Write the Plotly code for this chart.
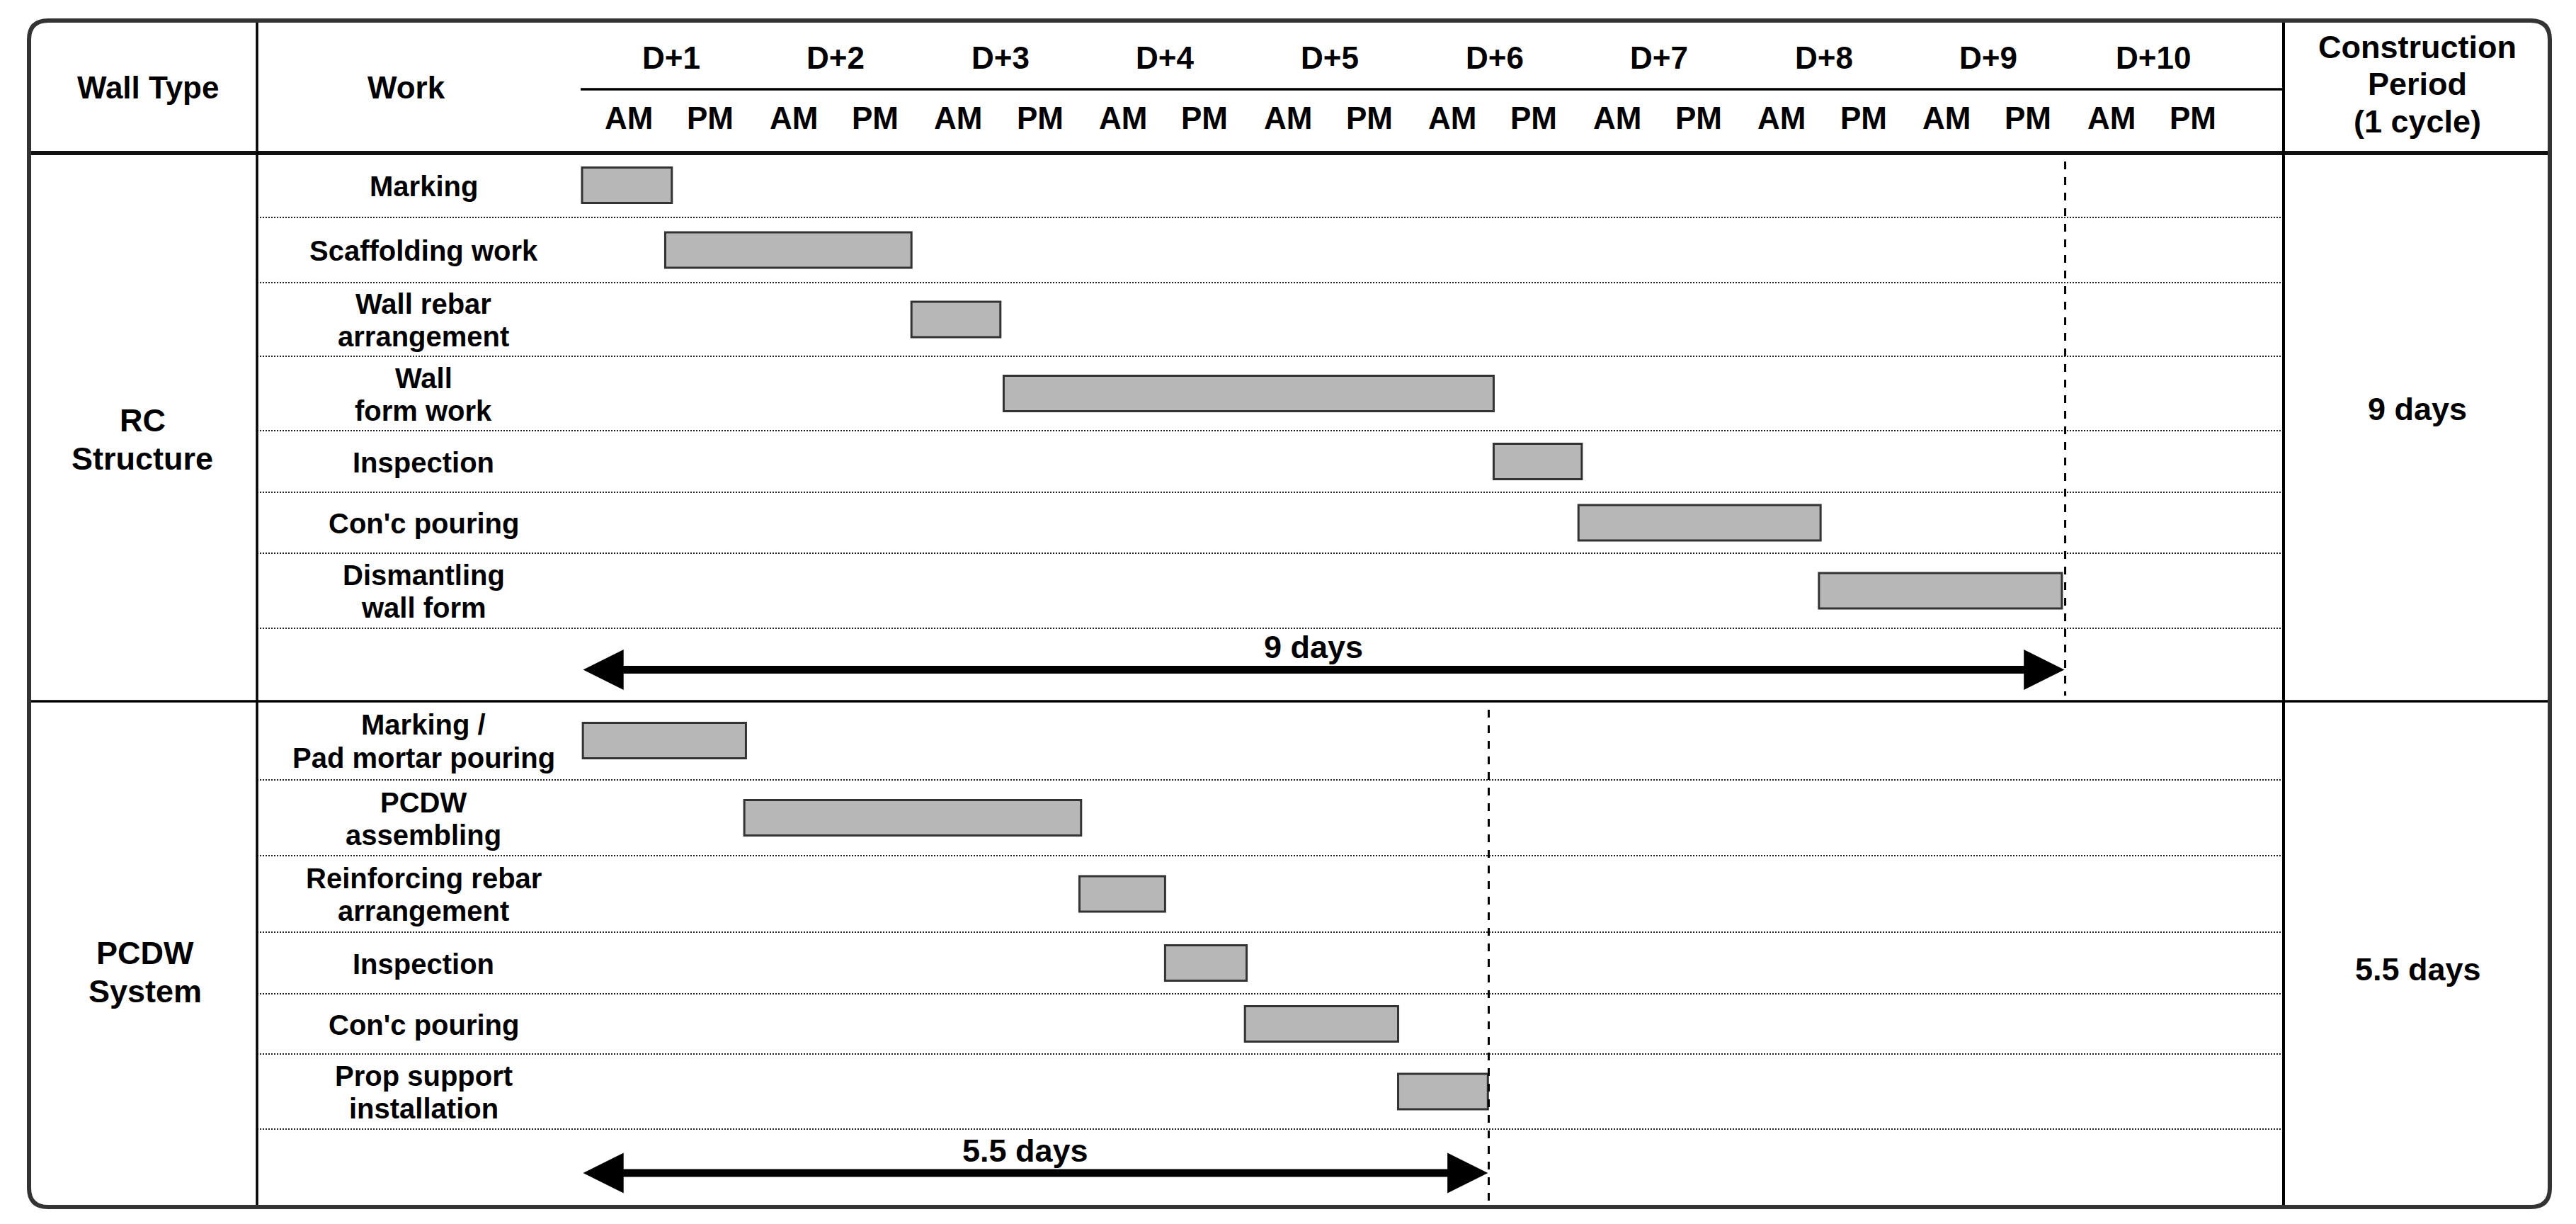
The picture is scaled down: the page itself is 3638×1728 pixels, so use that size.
import plotly.graph_objects as go

W, H = 3638, 1728

# ---------------- data ----------------
HEADER_WALL = "Wall Type"
HEADER_WORK = "Work"
HEADER_PERIOD = ["Construction", "Period", "(1 cycle)"]
DAY_LABELS = ["D+1", "D+2", "D+3", "D+4", "D+5", "D+6", "D+7", "D+8", "D+9", "D+10"]
HALF_LABELS = ["AM", "PM"]

WALL_TYPES = [["RC", "Structure"], ["PCDW", "System"]]
PERIOD_TEXT = ["9 days", "5.5 days"]

# tasks (start / end in half-day slots from D+1 AM)
RC_TASKS = [["Marking"], ["Scaffolding work"], ["Wall rebar", "arrangement"],
            ["Wall", "form work"], ["Inspection"], ["Con'c pouring"],
            ["Dismantling", "wall form"]]
RC_START = [0.00, 1.01, 4.00, 5.12, 11.07, 12.10, 15.02]
RC_END = [1.09, 4.00, 5.08, 11.07, 12.14, 15.04, 17.97]

PCDW_TASKS = [["Marking /", "Pad mortar pouring"], ["PCDW", "assembling"],
              ["Reinforcing rebar", "arrangement"], ["Inspection"],
              ["Con'c pouring"], ["Prop support", "installation"]]
PCDW_START = [0.01, 1.97, 6.04, 7.08, 8.05, 9.91]
PCDW_END = [1.99, 6.06, 7.08, 8.07, 9.91, 11.00]

# ---------------- layout constants ----------------
T0_PX = 822.0        # pixel x of slot 0
HALF_PX = 116.3      # pixels per half-day
BORDER_L, BORDER_R, BORDER_T, BORDER_B = 41, 3601, 29, 1704
HEADER_B = 216
DIV_X1 = 363
DIV_X2 = 3225
SUBHEAD_Y = 126
RC_TOP = HEADER_B
RC_ROW_H = [91, 92, 104, 105, 87, 86, 106]
RC_ARROW_H = 103
PCDW_ROW_H = [111, 107, 108, 87, 85, 106]
PCDW_ARROW_H = 110
BAR_H = 50
WORK_X = 598
FONT = "Liberation Sans, Arial, sans-serif"


def PX(x):
    return x / W


def PY(y):
    return 1 - y / H


# row geometry
def rows(top, heights):
    centers, bounds = [], []
    y = top
    for h in heights:
        centers.append(y + h / 2)
        y += h
        bounds.append(y)
    return centers, bounds


rc_centers, rc_bounds = rows(RC_TOP, RC_ROW_H)
RC_BOTTOM = rc_bounds[-1] + RC_ARROW_H
pc_centers, pc_bounds = rows(RC_BOTTOM, PCDW_ROW_H)
PC_BOTTOM = pc_bounds[-1] + PCDW_ARROW_H

fig = go.Figure()

starts = RC_START + PCDW_START
ends = RC_END + PCDW_END
ycent = rc_centers + pc_centers
fig.add_trace(go.Bar(
    orientation="h",
    base=starts,
    x=[e - s for s, e in zip(starts, ends)],
    y=ycent,
    width=BAR_H,
    marker=dict(color="#b7b7b7", line=dict(color="#333333", width=3)),
    hoverinfo="skip",
))

shapes = []


def hline(y, x0, x1, width, color="#000000", dash="solid"):
    shapes.append(dict(type="line", xref="paper", yref="paper",
                       x0=PX(x0), x1=PX(x1), y0=PY(y), y1=PY(y),
                       line=dict(color=color, width=width, dash=dash)))


def vline(x, y0, y1, width, color="#000000", dash="solid"):
    shapes.append(dict(type="line", xref="paper", yref="paper",
                       x0=PX(x), x1=PX(x), y0=PY(y0), y1=PY(y1),
                       line=dict(color=color, width=width, dash=dash)))


# dotted row separators
for b in rc_bounds:
    hline(b, DIV_X1, DIV_X2 - 3, 2, "#222222", "2px,2px")
for b in pc_bounds:
    hline(b, DIV_X1, DIV_X2 - 3, 2, "#222222", "2px,2px")

# dashed cycle-end lines (at the end of each cycle)
CYCLE_END = [round(max(RC_END) * 2) / 2, round(max(PCDW_END) * 2) / 2]
for end_t, y0, y1 in [(CYCLE_END[0], HEADER_B, RC_BOTTOM), (CYCLE_END[1], RC_BOTTOM, PC_BOTTOM)]:
    shapes.append(dict(type="line", xref="x", yref="paper", x0=end_t + 0.01, x1=end_t + 0.01,
                       y0=PY(y0 + 12), y1=PY(y1 - 8),
                       line=dict(color="#000000", width=3, dash="11px,11px")))

# structure lines
hline(HEADER_B, BORDER_L, BORDER_R, 6, "#111111")
hline(RC_BOTTOM, BORDER_L, BORDER_R, 3.5)
hline(SUBHEAD_Y, 820, DIV_X2, 3.5)
vline(DIV_X1, BORDER_T, BORDER_B, 3.5)
vline(DIV_X2, BORDER_T, BORDER_B, 4)

# rounded outer border
L, R, T, B, r = BORDER_L, BORDER_R, BORDER_T, BORDER_B, 27
path = (f"M {PX(L + r)},{PY(T)} L {PX(R - r)},{PY(T)} Q {PX(R)},{PY(T)} {PX(R)},{PY(T + r)} "
        f"L {PX(R)},{PY(B - r)} Q {PX(R)},{PY(B)} {PX(R - r)},{PY(B)} "
        f"L {PX(L + r)},{PY(B)} Q {PX(L)},{PY(B)} {PX(L)},{PY(B - r)} "
        f"L {PX(L)},{PY(T + r)} Q {PX(L)},{PY(T)} {PX(L + r)},{PY(T)} Z")
shapes.append(dict(type="path", xref="paper", yref="paper", path=path,
                   line=dict(color="#333333", width=6)))

annotations = []


def text(x, y, s, size, xref="paper"):
    annotations.append(dict(
        x=(PX(x) if xref == "paper" else x), y=PY(y), xref=xref, yref="paper",
        text=f"<b>{s}</b>", showarrow=False, xanchor="center", yanchor="middle",
        font=dict(family=FONT, size=size, color="#000000")))


# header
text(209, 123, HEADER_WALL, 44)
text(574, 123, HEADER_WORK, 44)
for i, s in enumerate(HEADER_PERIOD):
    text(3414, 67 + i * 52, s, 45)
for k, d in enumerate(DAY_LABELS):
    text(2 * k + 1.08, 81, d, 44, xref="x")
    text(2 * k + 0.57, 167, HALF_LABELS[0], 44, xref="x")
    text(2 * k + 1.56, 167, HALF_LABELS[1], 44, xref="x")

# wall types
text(201, 593, WALL_TYPES[0][0], 45)
text(201, 647, WALL_TYPES[0][1], 45)
text(205, 1345, WALL_TYPES[1][0], 45)
text(205, 1399, WALL_TYPES[1][1], 45)

# period values
text(3414, 578, PERIOD_TEXT[0], 45)
text(3415, 1368, PERIOD_TEXT[1], 45)


# work labels
def work_labels(tasks, centers):
    for lines, c in zip(tasks, centers):
        if len(lines) == 1:
            text(WORK_X, c + 1, lines[0], 40)
        else:
            text(WORK_X, c - 22, lines[0], 40)
            text(WORK_X, c + 24, lines[1], 40)


work_labels(RC_TASKS, rc_centers)
work_labels(PCDW_TASKS, pc_centers)

# cycle arrows (y axis is in pixel units, reversed)
for end_t, label, top, h in [(CYCLE_END[0], PERIOD_TEXT[0], rc_bounds[-1], RC_ARROW_H),
                             (CYCLE_END[1], PERIOD_TEXT[1], pc_bounds[-1], PCDW_ARROW_H)]:
    ya = top + h / 2 + 7
    annotations.append(dict(
        x=end_t, y=ya, ax=0, ay=ya, xref="x", yref="y", axref="x", ayref="y",
        text="", showarrow=True, arrowhead=2, startarrowhead=2, arrowside="end+start",
        arrowsize=1.04, startarrowsize=1.04, arrowwidth=11, arrowcolor="#000000",
        standoff=0, startstandoff=0))
    text(end_t / 2 - 0.12, top + h / 2 - 25, label, 45, xref="x")

fig.update_layout(
    width=W, height=H, autosize=False,
    margin=dict(l=0, r=0, t=0, b=0, pad=0),
    paper_bgcolor="#ffffff", plot_bgcolor="#ffffff",
    showlegend=False,
    xaxis=dict(domain=[0, 1], range=[(0 - T0_PX) / HALF_PX, (W - T0_PX) / HALF_PX],
               visible=False, fixedrange=True),
    yaxis=dict(domain=[0, 1], range=[H, 0], visible=False, fixedrange=True),
    shapes=shapes,
    annotations=annotations,
)

fig.write_html("out.html", config={"displayModeBar": False},
               post_script="document.body.style.margin='0';")
